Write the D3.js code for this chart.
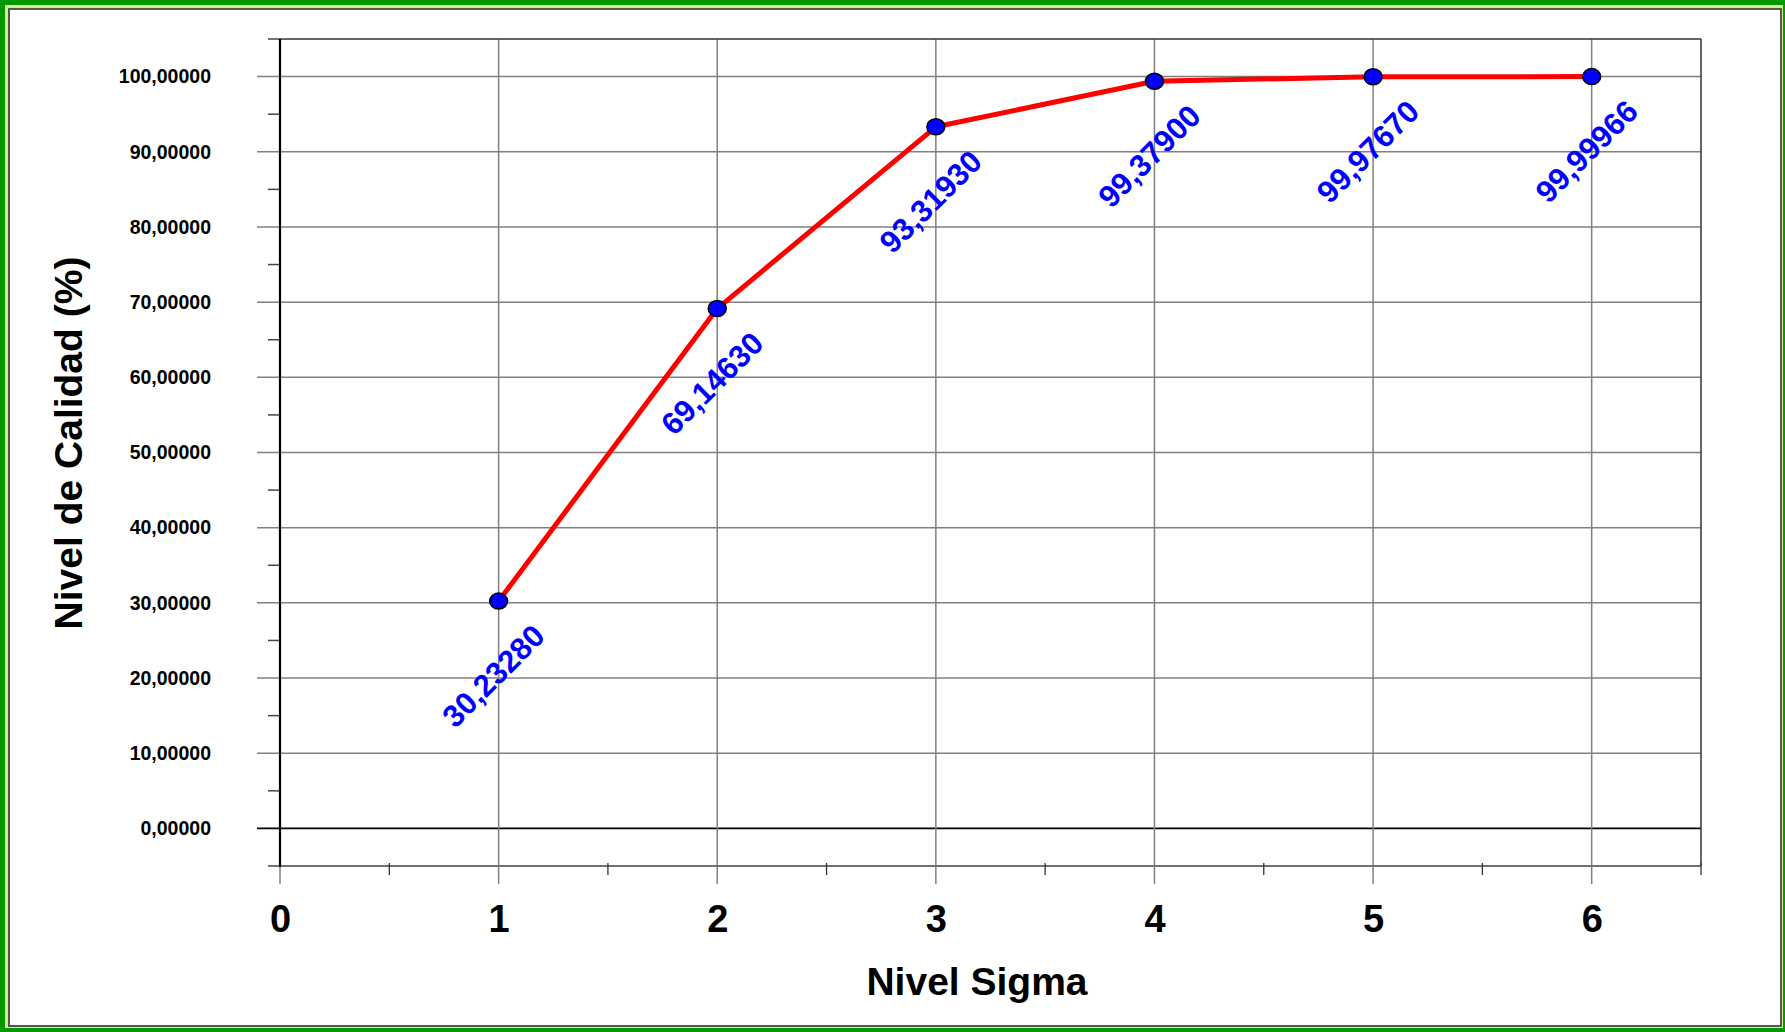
<!DOCTYPE html>
<html>
<head>
<meta charset="utf-8">
<script src="https://cdn.jsdelivr.net/npm/d3@7"></script>
<style>
  html, body { margin: 0; padding: 0; background: #fff; }
  svg { display: block; }
  text { font-family: "Liberation Sans", Arial, sans-serif; font-weight: bold; }
</style>
</head>
<body>
<svg id="chart" width="1785" height="1032"></svg>
<script>
// ---- Data ----
const sigmaLevels = [1, 2, 3, 4, 5, 6];
const qualityValues = [30.2328, 69.1463, 93.3193, 99.379, 99.9767, 99.99966];
const valueLabels = ["30,23280", "69,14630", "93,31930", "99,37900", "99,97670", "99,99966"];
const xTickValues = [0, 1, 2, 3, 4, 5, 6];
const xTickLabels = ["0", "1", "2", "3", "4", "5", "6"];
const yTickValues = [0, 10, 20, 30, 40, 50, 60, 70, 80, 90, 100];
const yTickLabels = ["0,00000", "10,00000", "20,00000", "30,00000", "40,00000", "50,00000",
                     "60,00000", "70,00000", "80,00000", "90,00000", "100,00000"];
const xTitle = "Nivel Sigma";
const yTitle = "Nivel de Calidad (%)";

// ---- Layout ----
const W = 1785, H = 1032;
const plot = { left: 280, right: 1701, top: 39, bottom: 866 };

const svg = d3.select("#chart");

// Frame
svg.append("rect").attr("x", 0).attr("y", 0).attr("width", W).attr("height", H).attr("fill", "#009a00");
svg.append("rect").attr("x", 5).attr("y", 5).attr("width", W - 7).attr("height", H - 9).attr("fill", "#d8ec90");
svg.append("rect").attr("x", 9).attr("y", 9).attr("width", W - 13).attr("height", H - 15)
   .attr("fill", "#ffffff").attr("stroke", "#555555").attr("stroke-width", 2);

const x = d3.scaleLinear().domain([0, 6.5]).range([plot.left, plot.right]);
const y = d3.scaleLinear().domain([-5, 105]).range([plot.bottom, plot.top]);

const g = svg.append("g");

// Horizontal gridlines (with left major tick extension)
g.selectAll(".hgrid").data(yTickValues).enter().append("line")
  .attr("x1", plot.left - 23).attr("x2", plot.right)
  .attr("y1", d => y(d)).attr("y2", d => y(d))
  .attr("stroke", d => d === 0 ? "#000000" : "#808080")
  .attr("stroke-width", d => d === 0 ? 1.6 : 1.5);

// Vertical gridlines (with bottom major tick extension)
g.selectAll(".vgrid").data(xTickValues.filter(d => d > 0)).enter().append("line")
  .attr("x1", d => x(d)).attr("x2", d => x(d))
  .attr("y1", plot.top).attr("y2", plot.bottom + 18)
  .attr("stroke", "#808080").attr("stroke-width", 1.5);
g.append("line").attr("x1", x(0)).attr("x2", x(0)).attr("y1", plot.bottom).attr("y2", plot.bottom + 18)
  .attr("stroke", "#808080").attr("stroke-width", 1.5);

// Plot border: top and right
g.append("line").attr("x1", plot.left).attr("x2", plot.right).attr("y1", plot.top).attr("y2", plot.top)
  .attr("stroke", "#333333").attr("stroke-width", 1.5);
g.append("line").attr("x1", plot.right).attr("x2", plot.right).attr("y1", plot.top).attr("y2", plot.bottom)
  .attr("stroke", "#333333").attr("stroke-width", 1.5);
g.append("line").attr("x1", plot.left).attr("x2", plot.right).attr("y1", plot.bottom).attr("y2", plot.bottom)
  .attr("stroke", "#707070").attr("stroke-width", 2.2);

// Minor y ticks
const yMinor = d3.range(-5, 106, 10);
g.selectAll(".yminor").data(yMinor).enter().append("line")
  .attr("x1", plot.left - 12).attr("x2", plot.left)
  .attr("y1", d => y(d)).attr("y2", d => y(d))
  .attr("stroke", "#444444").attr("stroke-width", 1.5);

// Minor x ticks
const xMinor = d3.range(0.5, 6.6, 1);
g.selectAll(".xminor").data(xMinor).enter().append("line")
  .attr("x1", d => x(d)).attr("x2", d => x(d))
  .attr("y1", plot.bottom - 3).attr("y2", plot.bottom + 9)
  .attr("stroke", "#333333").attr("stroke-width", 1.3);

// Left axis line
g.append("line").attr("x1", plot.left).attr("x2", plot.left).attr("y1", plot.top).attr("y2", plot.bottom + 1)
  .attr("stroke", "#000000").attr("stroke-width", 2.2);

// Y tick labels via d3 axis
const yAxis = d3.axisLeft(y).tickValues(yTickValues)
  .tickFormat((d, i) => yTickLabels[i]).tickSize(0).tickPadding(69);
const yAxisG = svg.append("g").attr("transform", `translate(${plot.left},0)`).call(yAxis);
yAxisG.select(".domain").remove();
yAxisG.selectAll("text").attr("font-size", 19.5).attr("font-family", "'Liberation Sans', Arial, sans-serif")
  .attr("font-weight", "bold").attr("fill", "#000");

// X tick labels via d3 axis
const xAxis = d3.axisBottom(x).tickValues(xTickValues)
  .tickFormat((d, i) => xTickLabels[i]).tickSize(0).tickPadding(0);
const xAxisG = svg.append("g").attr("transform", `translate(0,${plot.bottom})`).call(xAxis);
xAxisG.select(".domain").remove();
xAxisG.selectAll("text").attr("font-size", 38).attr("font-family", "'Liberation Sans', Arial, sans-serif")
  .attr("font-weight", "bold").attr("fill", "#000").attr("y", 66).attr("dy", null).attr("dx", 0);

// Axis titles
svg.append("text").attr("x", 977).attr("y", 995).attr("text-anchor", "middle")
  .attr("font-size", 39).attr("fill", "#000").text(xTitle);
svg.append("text").attr("transform", "translate(82,443) rotate(-90)").attr("text-anchor", "middle")
  .attr("font-size", 39).attr("fill", "#000").text(yTitle);

// Data
const data = sigmaLevels.map((s, i) => ({ s, v: qualityValues[i], label: valueLabels[i] }));

const line = d3.line().x(d => x(d.s)).y(d => y(d.v));
svg.append("path").datum(data).attr("d", line)
  .attr("fill", "none").attr("stroke", "#ff0000").attr("stroke-width", 5).attr("stroke-linejoin", "round");

svg.selectAll(".pt").data(data).enter().append("ellipse")
  .attr("cx", d => x(d.s)).attr("cy", d => y(d.v)).attr("rx", 9).attr("ry", 8)
  .attr("fill", "#0000ff").attr("stroke", "#000000").attr("stroke-width", 1.5);

svg.selectAll(".lbl").data(data).enter().append("text")
  .attr("transform", d => `translate(${x(d.s) - 5},${y(d.v) + 75}) rotate(-45)`)
  .attr("text-anchor", "middle").attr("dominant-baseline", "central")
  .attr("font-size", 31).attr("fill", "#0000ff").text(d => d.label);
</script>
</body>
</html>
